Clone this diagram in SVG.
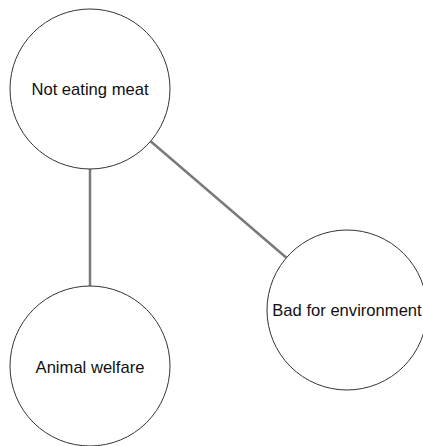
<svg xmlns="http://www.w3.org/2000/svg" width="423" height="446" viewBox="0 0 423 446">
  <style>
    .node circle { fill: #ffffff; stroke: #333333; stroke-width: 1; }
    .node text { font-family: "Liberation Sans", Arial, sans-serif; font-size: 16.6px; fill: #111111; text-anchor: middle; }
    .edge { stroke: #7a7a7a; stroke-width: 2.5; fill: none; }
  </style>
  <rect width="423" height="446" fill="#ffffff"/>
  <g id="connectors">
    <line class="edge" x1="90" y1="169" x2="90" y2="286"/>
    <line class="edge" x1="150.6" y1="141.2" x2="286.4" y2="257.8"/>
  </g>
  <g id="node-not-eating-meat" class="node">
    <circle cx="90" cy="89" r="80"/>
    <text x="90" y="95">Not eating meat</text>
  </g>
  <g id="node-animal-welfare" class="node">
    <circle cx="90" cy="366" r="80"/>
    <text x="90" y="373">Animal welfare</text>
  </g>
  <g id="node-bad-for-environment" class="node">
    <circle cx="347" cy="310" r="80"/>
    <text x="347" y="316">Bad for environment</text>
  </g>
</svg>
